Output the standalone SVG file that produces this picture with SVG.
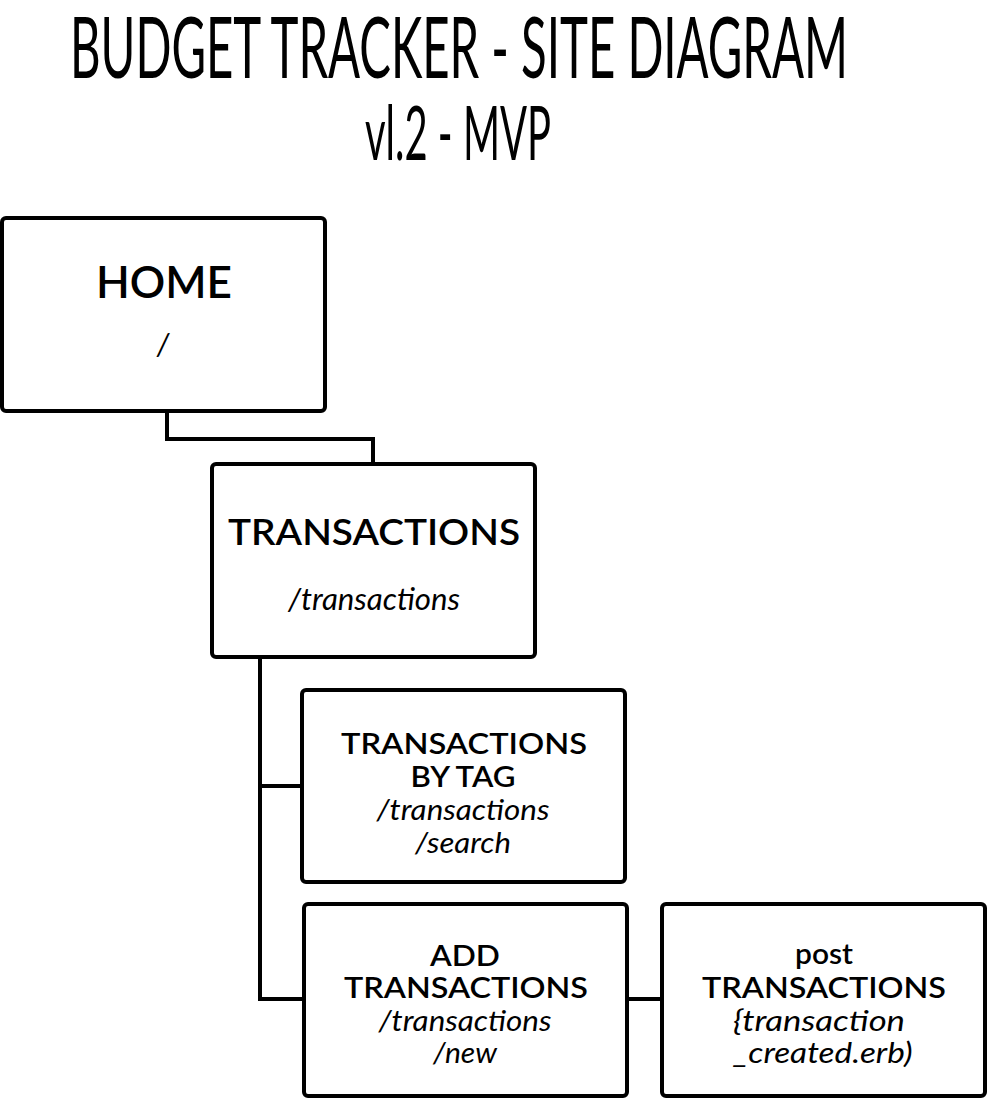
<svg xmlns="http://www.w3.org/2000/svg" width="988" height="1099" viewBox="0 0 988 1099">
<style>
.box{fill:#fff;stroke:#000;stroke-width:4;}
.conn{fill:none;stroke:#000;stroke-width:4;}
.title{font-family:Lato,"Liberation Sans",Arial,sans-serif;font-weight:400;fill:#000;}
.lbl{font-family:Lato,"Open Sans",sans-serif;font-weight:600;fill:#000;text-anchor:middle;}
.path{font-family:Lato,"Open Sans",sans-serif;font-style:italic;fill:#000;text-anchor:middle;}
</style>
<rect width="988" height="1099" fill="#fff"/>
<g id="title">
<text class="title" x="70" y="78" font-size="86" textLength="778" lengthAdjust="spacingAndGlyphs">BUDGET TRACKER - SITE DIAGRAM</text>
<text class="title" x="365" y="160" font-size="76" textLength="186" lengthAdjust="spacingAndGlyphs">vl.2 - MVP</text>
</g>
<g id="connectors">
<polyline class="conn" points="167,411 167,439 373,439 373,464"/>
<polyline class="conn" points="260,657 260,999 304,999"/>
<line class="conn" x1="260" y1="786" x2="302" y2="786"/>
<line class="conn" x1="627" y1="999" x2="662" y2="999"/>
</g>
<g id="home">
<rect class="box" x="2" y="218" width="323" height="193" rx="4"/>
<text class="lbl" x="164" y="298" font-size="44" textLength="136" lengthAdjust="spacingAndGlyphs">HOME</text>
<text class="path" x="163" y="355" font-size="30">/</text>
</g>
<g id="transactions">
<rect class="box" x="212" y="464" width="323" height="193" rx="4"/>
<text class="lbl" x="374" y="545" font-size="37" textLength="292" lengthAdjust="spacingAndGlyphs">TRANSACTIONS</text>
<text class="path" x="374" y="610" font-size="30" textLength="172" lengthAdjust="spacingAndGlyphs">/transactions</text>
</g>
<g id="transactions-by-tag">
<rect class="box" x="302" y="690" width="323" height="192" rx="4"/>
<text class="lbl" x="464" y="754" font-size="29" textLength="246" lengthAdjust="spacingAndGlyphs">TRANSACTIONS</text>
<text class="lbl" x="463" y="787" font-size="29" textLength="105" lengthAdjust="spacingAndGlyphs">BY TAG</text>
<text class="path" x="463" y="820" font-size="29" textLength="173" lengthAdjust="spacingAndGlyphs">/transactions</text>
<text class="path" x="463" y="853" font-size="29" textLength="96" lengthAdjust="spacingAndGlyphs">/search</text>
</g>
<g id="add-transactions">
<rect class="box" x="304" y="904" width="323" height="192" rx="4"/>
<text class="lbl" x="465" y="966" font-size="29" textLength="70" lengthAdjust="spacingAndGlyphs">ADD</text>
<text class="lbl" x="466" y="998" font-size="29" textLength="244" lengthAdjust="spacingAndGlyphs">TRANSACTIONS</text>
<text class="path" x="465" y="1031" font-size="29" textLength="173" lengthAdjust="spacingAndGlyphs">/transactions</text>
<text class="path" x="465" y="1063" font-size="29" textLength="64" lengthAdjust="spacingAndGlyphs">/new</text>
</g>
<g id="post-transactions">
<rect class="box" x="662" y="904" width="323" height="192" rx="4"/>
<text class="lbl" x="824" y="964" font-size="29" textLength="58" lengthAdjust="spacingAndGlyphs">post</text>
<text class="lbl" x="824" y="998" font-size="29" textLength="244" lengthAdjust="spacingAndGlyphs">TRANSACTIONS</text>
<text class="path" x="819" y="1031" font-size="29" textLength="172" lengthAdjust="spacingAndGlyphs">{transaction</text>
<text class="path" x="823" y="1063" font-size="29" textLength="179" lengthAdjust="spacingAndGlyphs">_created.erb)</text>
</g>
</svg>
